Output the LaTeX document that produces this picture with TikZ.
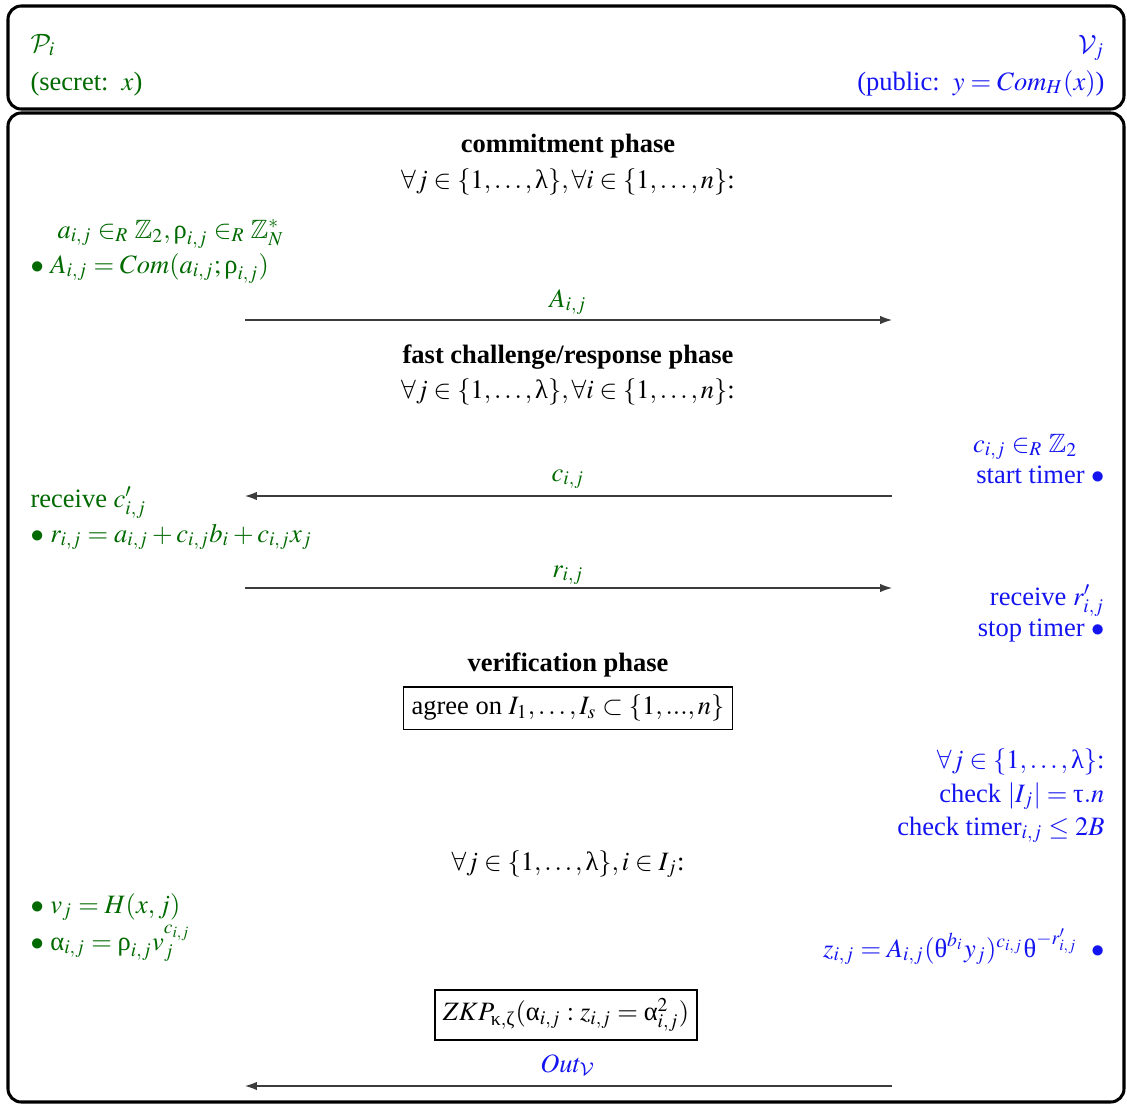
\documentclass[tikz,border=0pt]{standalone}
\usepackage{amsmath}
\usepackage{amssymb}
\usepackage{mathptmx}
\usepackage[no-math]{fontspec}
\setmainfont{Liberation Serif}
\usetikzlibrary{arrows.meta}
\DeclareMathAlphabet{\mathcalcm}{OMS}{cmsy}{m}{n}
\newcommand{\ual}{\text{α}}
\newcommand{\urho}{\text{ρ}}
\newcommand{\ulam}{\text{λ}}
\newcommand{\uth}{\text{θ}}
\newcommand{\utau}{\text{τ}}
\newcommand{\ukap}{\text{κ}}
\newcommand{\uzeta}{\text{ζ}}
\newcommand{\bul}{$\bullet$}
\definecolor{pgreen}{RGB}{0,105,0}
\definecolor{vblue}{RGB}{20,20,240}
\definecolor{arrgray}{RGB}{60,60,60}
\tikzset{
  frame/.style={line width=1.15pt, rounded corners=5pt},
  lt/.style={anchor=base west, inner sep=0pt},
  rt/.style={anchor=base east, inner sep=0pt},
  ct/.style={anchor=base, inner sep=0pt},
  pv/.style={text=pgreen},
  vf/.style={text=vblue},
  msg/.style={draw=arrgray, line width=0.45pt, -{Latex[length=4.5pt,width=3.2pt]}},
  pbox/.style={draw, line width=0.45pt, inner sep=3pt},
}
\begin{document}
\begin{tikzpicture}[x=0.3774pt,y=-0.3774pt]
\useasboundingbox (0,0) rectangle (1127,1104);
% frames
\draw[frame] (8,6) rectangle (1124,109);
\draw[frame] (8,113) rectangle (1124,1102);
% header
\node[lt,pv] (P) at (30,52) {$\mathcalcm{P}_i$};
\node[lt,pv] (sec) at (30,90) {(secret:\ \ $x$)};
\node[rt,vf] (V) at (1105,53) {$\mathcalcm{V}_j$};
\node[rt,vf] (pub) at (1105,90) {(public:\ \ $y=Com_H(x)$)};
% commitment phase
\node[ct] (cp) at (568,152) {\textbf{commitment phase}};
\node[ct] (cpq) at (568,188) {$\forall j\in\{1,\ldots,\ulam\},\forall i\in\{1,\ldots,n\}$:};
\node[lt,pv] (ca) at (57,238) {$a_{i,j}\in_R\mathbb{Z}_2,\urho_{i,j}\in_R\mathbb{Z}_N^*$};
\node[lt,pv] (cA) at (30,273) {\bul\ $A_{i,j}=Com(a_{i,j};\urho_{i,j})$};
\coordinate (a1) at (245,320);
\coordinate (a2) at (892,320);
\draw[msg] (a1) -- (a2);
\node[ct,pv] (la) at (568,307) {$A_{i,j}$};
% fast challenge
\node[ct] (fp) at (568,363) {\textbf{fast challenge/response phase}};
\node[ct] (fpq) at (568,398) {$\forall j\in\{1,\ldots,\ulam\},\forall i\in\{1,\ldots,n\}$:};
\node[rt,vf] (cc) at (1078,452) {$c_{i,j}\in_R\mathbb{Z}_2$};
\node[rt,vf] (st) at (1105,483) {start timer \bul};
\coordinate (c1) at (892,496);
\coordinate (c2) at (245,496);
\draw[msg] (c1) -- (c2);
\node[ct,pv] (lc) at (568,481) {$c_{i,j}$};
\node[lt,pv] (rc) at (30,507) {receive $c'_{i,j}$};
\node[lt,pv] (rr) at (30,542) {\bul\ $r_{i,j}=a_{i,j}+c_{i,j}b_i+c_{i,j}x_j$};
\coordinate (r1) at (245,588);
\coordinate (r2) at (892,588);
\draw[msg] (r1) -- (r2);
\node[ct,pv] (lr) at (568,577) {$r_{i,j}$};
\node[rt,vf] (rv) at (1105,605) {receive $r'_{i,j}$};
\node[rt,vf] (sp) at (1105,636) {stop timer \bul};
% verification
\node[ct] (vp) at (568,671) {\textbf{verification phase}};
\node[pbox] (agree) at (568,708) {agree on $I_1,\ldots,I_s\subset\{1,...,n\}$};
\node[rt,vf] (vq) at (1105,768) {$\forall j\in\{1,\ldots,\ulam\}$:};
\node[rt,vf] (ck1) at (1105,802) {check $|I_j|=\utau.n$};
\node[rt,vf] (ck2) at (1105,835) {check timer$_{i,j}\leq 2B$};
\node[ct] (vq2) at (568,870) {$\forall j\in\{1,\ldots,\ulam\},i\in I_j$:};
\node[lt,pv] (vj) at (30,913) {\bul\ $v_j=H(x,j)$};
\node[lt,pv] (al) at (30,950) {\bul\ $\ual_{i,j}=\urho_{i,j}v_j^{c_{i,j}}$};
\node[rt,vf] (z) at (1105,957) {$z_{i,j}=A_{i,j}(\uth^{b_i}y_j)^{c_{i,j}}\uth^{-r'_{i,j}}$\ \ \bul};
\node[pbox] (zkp) at (566,1015) {$ZKP_{\ukap,\uzeta}(\ual_{i,j}:z_{i,j}=\ual^2_{i,j})$};
\coordinate (o1) at (892,1086);
\coordinate (o2) at (245,1086);
\draw[msg] (o1) -- (o2);
\node[ct,vf] (lo) at (568,1072) {$Out_{\mathcalcm{V}}$};
\end{tikzpicture}
\end{document}
